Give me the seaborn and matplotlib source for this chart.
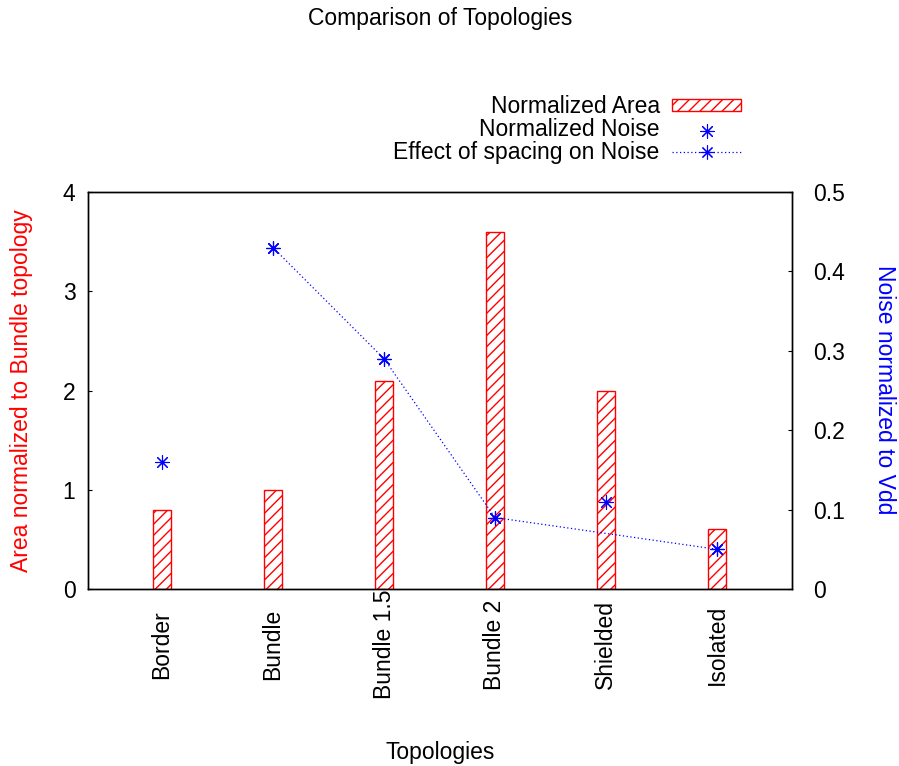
import matplotlib
matplotlib.use("Agg")
import matplotlib.pyplot as plt
import seaborn as sns

# Topology comparison data
categories = ["Border", "Bundle", "Bundle 1.5", "Bundle 2", "Shielded", "Isolated"]
area = [0.8, 1.0, 2.1, 3.6, 2.0, 0.6]
noise = [0.16, 0.43, 0.29, 0.09, 0.11, 0.05]
spacing_categories = ["Bundle", "Bundle 1.5", "Bundle 2", "Isolated"]
spacing_noise = [0.43, 0.29, 0.09, 0.05]

area_ticks = [0, 1, 2, 3, 4]
noise_ticks = [0, 0.1, 0.2, 0.3, 0.4, 0.5]
noise_tick_labels = ["0", "0.1", "0.2", "0.3", "0.4", "0.5"]

sns.set_style("white")
plt.rcParams["font.family"] = ["Liberation Sans", "DejaVu Sans"]
plt.rcParams["hatch.linewidth"] = 1.0
for key in ("text.color", "axes.labelcolor", "xtick.color", "ytick.color"):
    plt.rcParams[key] = "black"
FS = 16.5

W, H = 899, 766
fig = plt.figure(figsize=(W / 100, H / 100), dpi=100)
ax = fig.add_axes([88 / W, 1 - 589 / H, (792 - 88) / W, (589 - 192) / H])

# Hatched area bars
sns.barplot(x=categories, y=area, ax=ax, fill=False, color="red",
            width=0.168, hatch="///", linewidth=1.0, edgecolor="red")

ax2 = ax.twinx()
star = (8, 2, 0)
sns.scatterplot(x=categories, y=noise, ax=ax2, marker=star, s=100,
                color="blue", edgecolor="blue", linewidth=0.8, zorder=4)
sns.lineplot(x=spacing_categories, y=spacing_noise, ax=ax2, sort=False,
             color="blue", linewidth=0.9, linestyle=(0, (1, 2)),
             marker=star, markersize=10, markeredgecolor="blue",
             markeredgewidth=0.8, zorder=3)

ax.set_xlim(-0.667, 5.676)
ax.set_ylim(0, 4)
ax2.set_ylim(0, 0.5)
ax.set_yticks(area_ticks)
ax2.set_yticks(noise_ticks)
ax2.set_yticklabels(noise_tick_labels)

for a in (ax, ax2):
    a.set_xlabel("")
    a.set_ylabel("")
    for s in a.spines.values():
        s.set_color("black")
        s.set_linewidth(1.0)
        s.set_visible(True)

ax.tick_params(axis="y", direction="in", length=3, width=0.8,
               labelsize=FS, pad=9, left=True, right=False)
ax2.tick_params(axis="y", direction="in", length=3, width=0.8,
                labelsize=FS, pad=15, right=True, left=False)
ax.tick_params(axis="x", length=0, labelsize=FS, pad=40)
for t in ax.get_xticklabels():
    t.set_rotation(90)
    t.set_va("center")
    t.set_ha("center")

# Titles and axis labels
fig.text(440 / W, 1 - 18 / H, "Comparison of Topologies", ha="center",
         va="center", fontsize=FS)
fig.text(440 / W, 1 - 752 / H, "Topologies", ha="center", va="center",
         fontsize=FS)
fig.text(22 / W, 1 - 391 / H, "Area normalized to Bundle topology",
         rotation=90, ha="center", va="center", fontsize=FS, color="red")
fig.text(885 / W, 1 - 390 / H, "Noise normalized to Vdd", rotation=-90,
         ha="center", va="center", fontsize=FS, color="blue")

handles = [ax.patches[0], ax2.collections[0], ax2.lines[0]]
labels = ["Normalized Area", "Normalized Noise", "Effect of spacing on Noise"]
fig.legend(handles, labels, loc="upper right",
           bbox_to_anchor=(741 / W, 1 - 95 / H), frameon=False,
           markerfirst=False, fontsize=FS, handlelength=3.0,
           handleheight=0.45, handletextpad=0.55, labelspacing=0.0,
           borderpad=0, borderaxespad=0, scatterpoints=1, numpoints=1)

fig.savefig("out.png", dpi=100)
